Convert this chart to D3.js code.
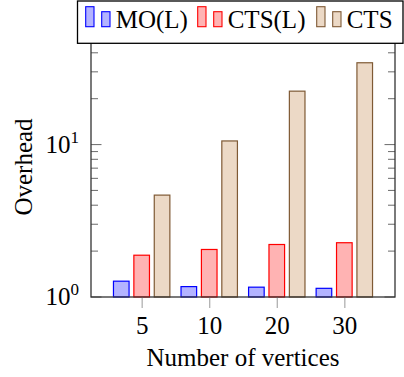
<!DOCTYPE html>
<html>
<head>
<meta charset="utf-8">
<script src="https://cdn.jsdelivr.net/npm/d3@7"></script>
<style>
  body { margin: 0; background: #fff; }
  text { font-family: "Liberation Serif", serif; fill: #000; }
</style>
</head>
<body>
<svg width="404" height="377"></svg>
<script>
// values (log axis)
var categories = ["5", "10", "20", "30"];
var seriesNames = ["MO(L)", "CTS(L)", "CTS"];
var moL  = [1.27, 1.17, 1.16, 1.14];
var ctsL = [1.88, 2.05, 2.21, 2.27];
var cts  = [4.66, 10.56, 22.4, 34.4];
var yMajor = [1, 10];
var yMinor = [2, 3, 4, 5, 6, 7, 8, 9, 20, 30, 40];

var fills   = ["#b3b3ff", "#ffb3b3", "#ecd9c6"];
var strokes = ["#0000ff", "#ff0000", "#7f5a35"];

var svg = d3.select("svg"),
    mLeft = 91, mRight = 395, mTop = 38, mBottom = 297,
    fs = 25;

var x = d3.scalePoint()
    .domain(categories)
    .range([mLeft, mRight])
    .padding(0.75);

var xs = d3.scaleBand()
    .domain(seriesNames)
    .range([-30.6, 30.6])
    .paddingInner(0.235)
    .paddingOuter(0.1175);

var y = d3.scaleLog()
    .domain([1, 50])
    .range([mBottom, mTop]);

var data = [moL, ctsL, cts];

// bars
data.forEach(function(vals, s) {
  svg.append("g")
    .selectAll("rect")
    .data(vals)
    .enter().append("rect")
      .attr("x", function(d, i) { return x(categories[i]) + xs(seriesNames[s]); })
      .attr("y", function(d) { return y(d); })
      .attr("width", xs.bandwidth())
      .attr("height", function(d) { return y(1) - y(d); })
      .attr("fill", fills[s])
      .attr("stroke", strokes[s])
      .attr("stroke-width", 1.2);
});

// x ticks (outside, light)
svg.append("g")
  .attr("transform", "translate(0," + mBottom + ")")
  .call(d3.axisBottom(x).tickSize(11).tickPadding(8).tickSizeOuter(0))
  .call(function(g) {
    g.select(".domain").remove();
    g.selectAll(".tick line").attr("stroke", "#aaa").attr("stroke-width", 1.2);
    g.selectAll(".tick text").attr("font-size", fs).attr("font-family", "Liberation Serif");
  });

// y ticks on both sides, inward
[[mLeft, 1], [mRight, -1]].forEach(function(side) {
  var g = svg.append("g");
  g.selectAll("line.maj").data(yMajor).enter().append("line")
    .attr("x1", side[0]).attr("x2", side[0] + side[1] * 10.5)
    .attr("y1", function(d) { return y(d); }).attr("y2", function(d) { return y(d); })
    .attr("stroke", "#777").attr("stroke-width", 1.1);
  g.selectAll("line.min").data(yMinor).enter().append("line")
    .attr("x1", side[0]).attr("x2", side[0] + side[1] * 7)
    .attr("y1", function(d) { return y(d); }).attr("y2", function(d) { return y(d); })
    .attr("stroke", "#777").attr("stroke-width", 1.1);
});

// y tick labels 10^k
yMajor.forEach(function(v) {
  var t = svg.append("text")
    .attr("x", 79).attr("y", y(v) + 8)
    .attr("text-anchor", "end")
    .attr("font-size", fs);
  t.append("tspan").text("10");
  t.append("tspan").attr("dy", -10).attr("font-size", 17).text(Math.round(Math.log10(v)));
});

// frame
svg.append("rect")
  .attr("x", mLeft).attr("y", mTop)
  .attr("width", mRight - mLeft).attr("height", mBottom - mTop)
  .attr("fill", "none").attr("stroke", "#333").attr("stroke-width", 1.3);

// axis labels
svg.append("text")
  .attr("x", (mLeft + mRight) / 2).attr("y", 366)
  .attr("text-anchor", "middle")
  .attr("font-size", fs)
  .text("Number of vertices");

svg.append("text")
  .attr("transform", "translate(32,167) rotate(-90)")
  .attr("text-anchor", "middle")
  .attr("font-size", fs)
  .text("Overhead");

// legend
var legend = svg.append("g");
legend.append("rect")
  .attr("x", 77.5).attr("y", 1)
  .attr("width", 325.5).attr("height", 42.3)
  .attr("fill", "#fff").attr("stroke", "#000").attr("stroke-width", 1.3);

var legX = [85.7, 197.7, 316.7];
seriesNames.forEach(function(name, s) {
  legend.append("rect")
    .attr("x", legX[s]).attr("y", 6.7).attr("width", 8.3).attr("height", 20)
    .attr("fill", fills[s]).attr("stroke", strokes[s]).attr("stroke-width", 1.1);
  legend.append("rect")
    .attr("x", legX[s] + 16).attr("y", 11.7).attr("width", 8.3).attr("height", 15)
    .attr("fill", fills[s]).attr("stroke", strokes[s]).attr("stroke-width", 1.1);
  legend.append("text")
    .attr("x", legX[s] + 30).attr("y", 27.5)
    .attr("font-size", fs)
    .text(name);
});
</script>
</body>
</html>
